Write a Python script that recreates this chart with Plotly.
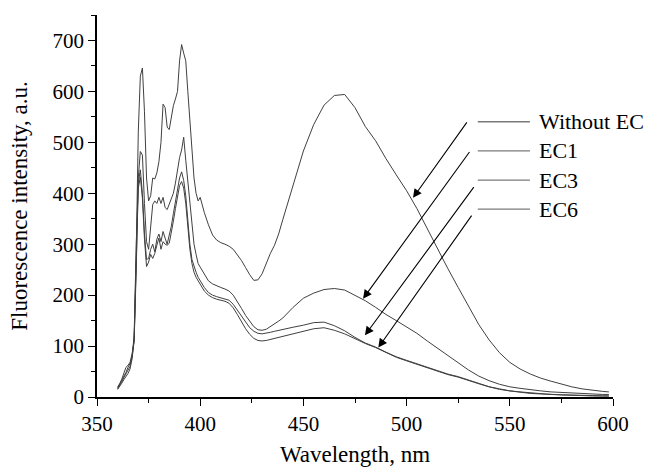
import plotly.graph_objects as go

# Wavelength grid (nm): 1 nm steps over the structured UV region, coarser beyond
wavelength = (
    list(range(360, 401, 1))
    + list(range(402, 441, 2))
    + list(range(445, 596, 5))
    + [598]
)

without_ec = [
    # 360-400
    18, 25, 32, 40, 48, 58, 66, 78, 110, 280, 520, 630, 646, 560, 430, 385, 395, 430, 428, 440,
    462, 500, 575, 568, 530, 525, 548, 572, 585, 600, 660, 692, 675, 660, 600, 540, 480, 430, 400, 385,
    392,
    # 402-440
    362, 338, 318, 308, 303, 300, 296, 290, 280, 268, 254, 240, 229, 230, 242, 262, 282, 298, 320, 348,
    # 445-598
    418, 483, 535, 573, 592, 594, 568, 531, 503, 468, 436, 405, 370, 330, 290, 252, 215, 178, 142, 112,
    87, 68, 55, 45, 37, 31, 25, 20, 16, 13, 11, 10,
]

ec1 = [
    20, 26, 35, 48, 58, 62, 68, 85, 110, 250, 430, 482, 475, 380, 305, 290, 330, 378, 385, 380,
    392, 380, 392, 372, 368, 380, 392, 400, 420, 445, 470, 485, 510, 465, 420, 385, 345, 300, 280, 262,
    255,
    240, 228, 222, 218, 215, 212, 208, 200, 188, 174, 160, 148, 138, 132, 131, 133, 138, 143, 149, 155,
    176, 194, 204, 211, 213, 210, 200, 189, 176, 162, 150, 138, 125, 110, 96, 82, 68, 53, 41, 32,
    25, 20, 17, 14, 12, 10, 9, 7, 6, 6, 5, 5,
]

ec3 = [
    16, 22, 30, 38, 45, 52, 60, 80, 120, 300, 420, 446, 400, 320, 270, 272, 290, 300, 285, 310,
    320, 305, 325, 312, 300, 318, 335, 360, 385, 405, 430, 442, 425, 395, 340, 300, 270, 255, 245, 235,
    228,
    215, 205, 200, 197, 195, 193, 190, 182, 170, 158, 146, 136, 129, 125, 124, 125, 127, 129, 131, 133,
    137, 141, 146, 147, 140, 130, 117, 106, 98, 88, 79, 72, 65, 58, 51, 45, 40, 33, 27, 20,
    16, 12, 10, 8, 6, 5, 4, 4, 3, 3, 2, 2,
]

ec6 = [
    15, 20, 27, 34, 40, 46, 55, 75, 115, 290, 410, 432, 390, 310, 256, 265, 280, 272, 282, 298,
    312, 290, 305, 300, 298, 302, 322, 345, 370, 395, 415, 423, 410, 380, 330, 290, 262, 245, 235, 228,
    222,
    208, 200, 195, 192, 190, 188, 184, 175, 162, 148, 134, 123, 115, 111, 110, 111, 113, 116, 118, 120,
    125, 130, 134, 136, 131, 124, 114, 105, 97, 87, 78, 71, 64, 57, 50, 44, 39, 32, 26, 20,
    15, 12, 9, 7, 6, 5, 4, 3, 3, 2, 2, 2,
]

series_names = ["Without EC", "EC1", "EC3", "EC6"]
series_values = [without_ec, ec1, ec3, ec6]

# Arrows marking the decrease of each spectrum: (tail_x, tail_y, tip_x, tip_y)
arrow_tails_x = [529.7, 531.0, 533.1, 532.0]
arrow_tails_y = [542, 484, 415, 359]
arrow_tips_x = [503.1, 478.9, 479.8, 486.3]
arrow_tips_y = [391, 193, 121, 97]

FONT = "Liberation Serif, Times New Roman, serif"
CURVE_COLOR = "#404040"

# Key placement (fractions of the plotting area)
KEY_LINE_X0, KEY_LINE_X1, KEY_TEXT_X = 0.738, 0.839, 0.852
KEY_TOP_Y, KEY_STEP = 0.7205, 0.0763

fig = go.Figure()
for name, vals in zip(series_names, series_values):
    fig.add_trace(go.Scatter(
        x=wavelength, y=vals, name=name, mode="lines",
        line=dict(color=CURVE_COLOR, width=1), showlegend=False,
    ))

for tx, ty, hx, hy in zip(arrow_tails_x, arrow_tails_y, arrow_tips_x, arrow_tips_y):
    fig.add_annotation(
        x=hx, y=hy, ax=tx, ay=ty, xref="x", yref="y", axref="x", ayref="y",
        text="", showarrow=True, arrowhead=2, arrowsize=1.6, arrowwidth=1.1,
        arrowcolor="black", standoff=0,
    )

# Key: short sample line followed by the series name
for i, name in enumerate(series_names):
    ky = KEY_TOP_Y - i * KEY_STEP
    fig.add_shape(
        type="line", xref="paper", yref="paper",
        x0=KEY_LINE_X0, x1=KEY_LINE_X1, y0=ky, y1=ky,
        line=dict(color="#7a7a7a", width=1.3),
    )
    fig.add_annotation(
        x=KEY_TEXT_X, y=ky, xref="paper", yref="paper", text=name,
        showarrow=False, xanchor="left", yanchor="middle",
        font=dict(family=FONT, size=22, color="black"),
    )

axis_common = dict(
    showgrid=False, zeroline=False, showline=True, linecolor="black", linewidth=1.5,
    ticks="outside", ticklen=7, tickwidth=1.3, tickcolor="black",
    tickfont=dict(family=FONT, size=21, color="black"),
    mirror=False, automargin=False,
)

fig.update_xaxes(
    range=[350, 600], dtick=50, tick0=350,
    minor=dict(dtick=25, ticks="outside", ticklen=4, tickwidth=1.2, tickcolor="black"),
    title=dict(text="Wavelength, nm", font=dict(family=FONT, size=23, color="black"), standoff=12),
    **axis_common,
)
fig.update_yaxes(
    range=[0, 750], dtick=100, tick0=0,
    minor=dict(dtick=50, ticks="outside", ticklen=4, tickwidth=1.2, tickcolor="black"),
    title=dict(text="Fluorescence intensity, a.u.", font=dict(family=FONT, size=23, color="black"), standoff=18),
    **axis_common,
)

fig.update_layout(
    width=649, height=467,
    margin=dict(l=97, r=36, t=15, b=70),
    plot_bgcolor="white", paper_bgcolor="white",
    showlegend=False,
)

fig.write_html("out.html")
